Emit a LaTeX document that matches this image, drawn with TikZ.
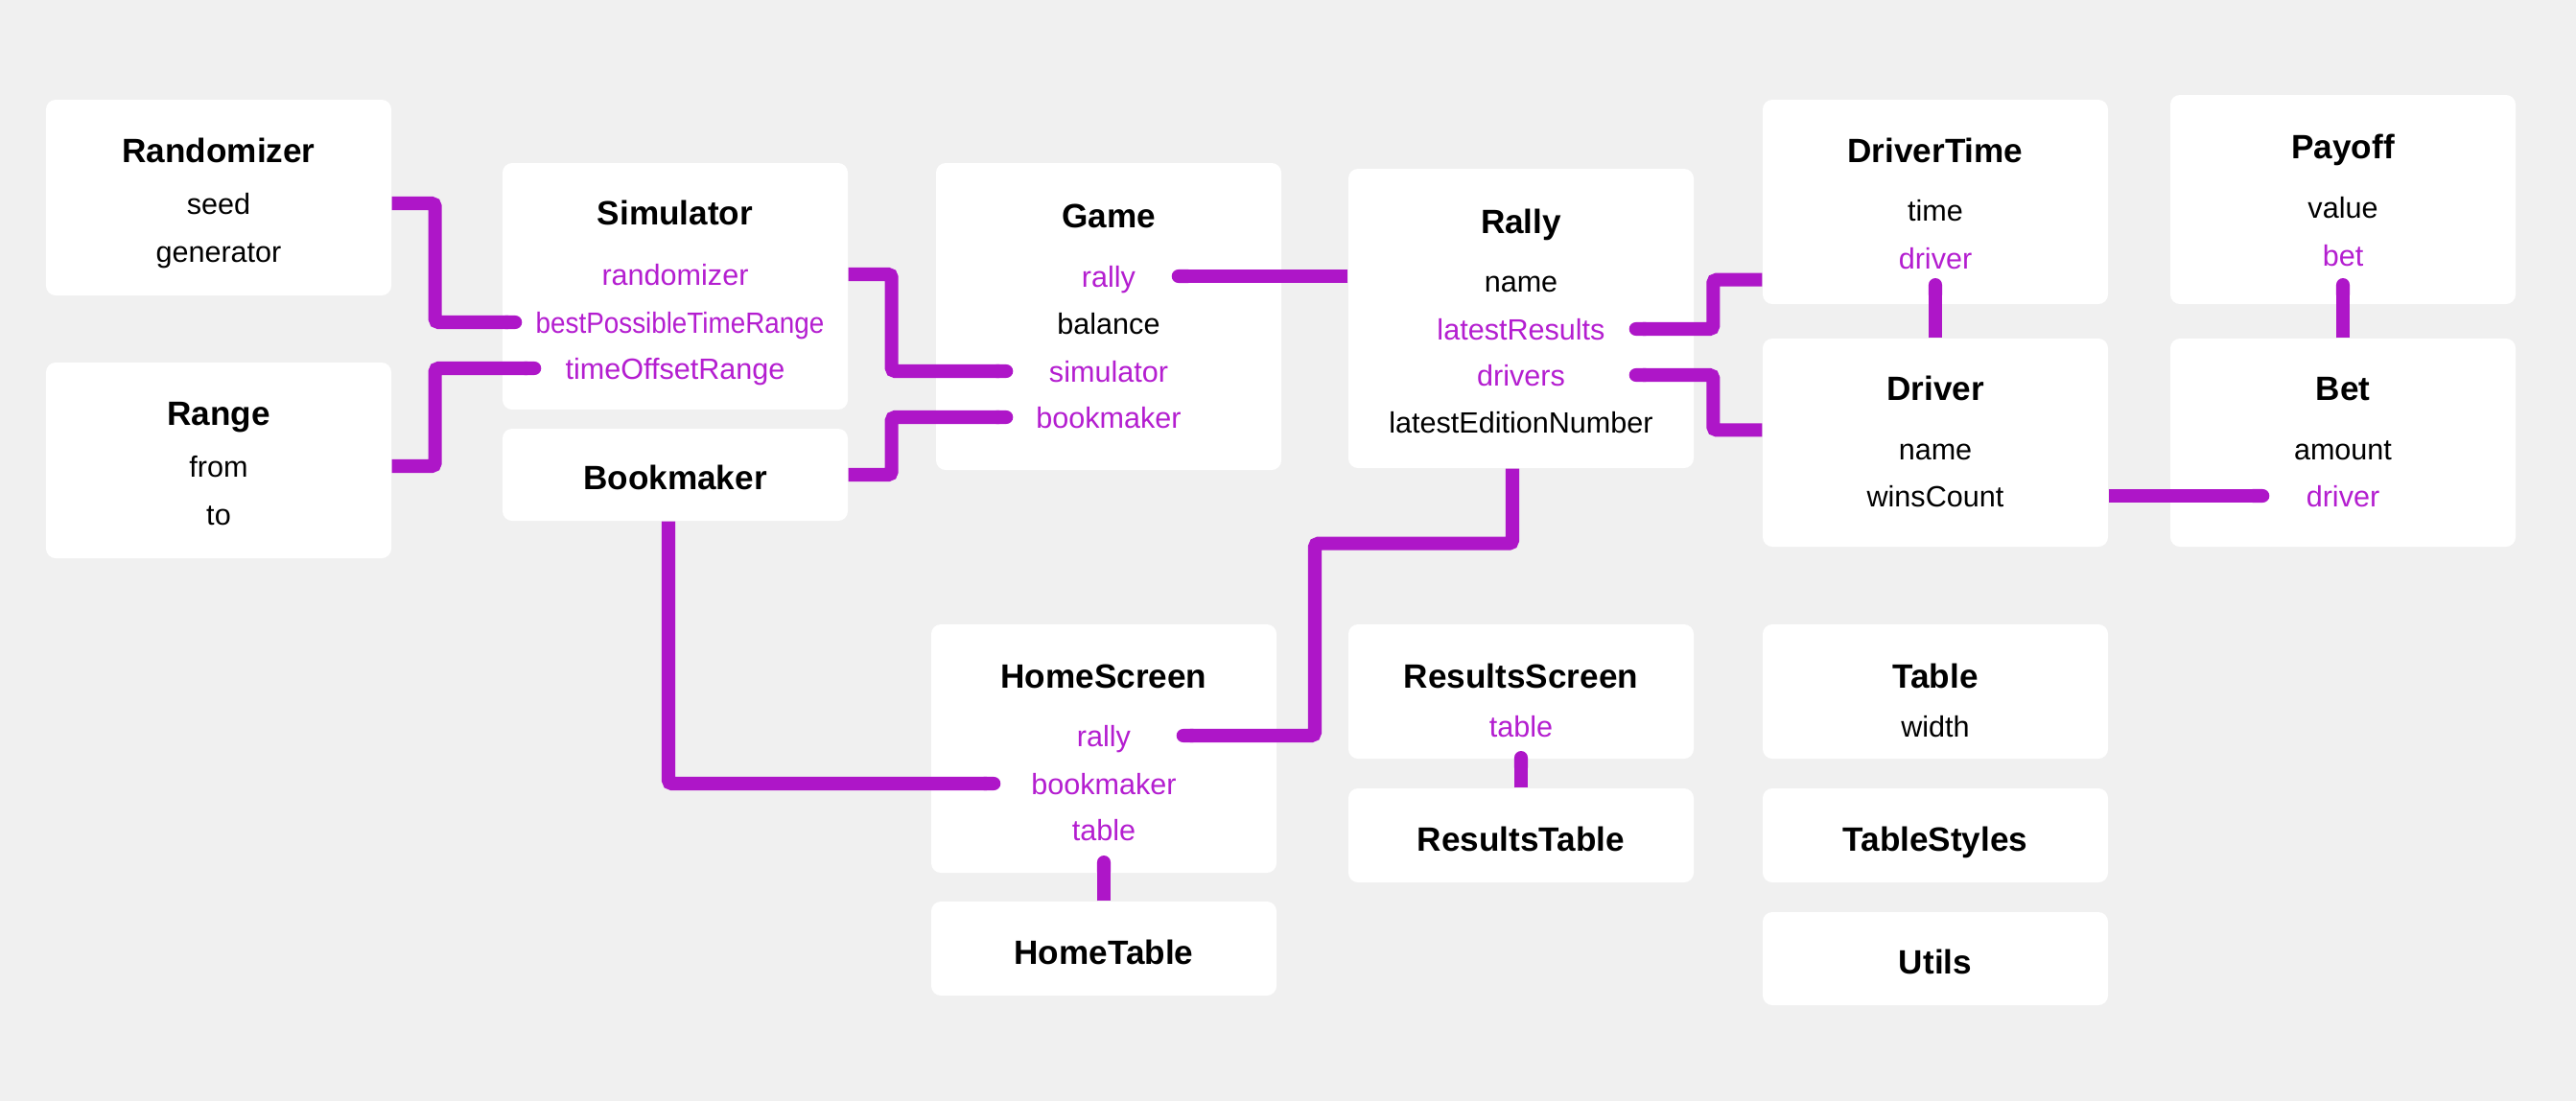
\documentclass[tikz,border=0pt]{standalone}
\usepackage{fontspec}
\setmainfont{Liberation Sans}
\usetikzlibrary{positioning,arrows.meta}
\definecolor{canvas}{RGB}{240,240,240}
\definecolor{linkpurple}{RGB}{174,22,200}
\definecolor{refpurple}{RGB}{180,30,208}

\begin{document}
\begin{tikzpicture}[
  box/.style={fill=white, rounded corners=1mm, minimum width=3.6cm, inner sep=0pt},
  head/.style={font=\fontsize{10}{12}\selectfont\bfseries, inner sep=0pt,
               text height=9.5pt, text depth=2pt},
  attr/.style={font=\fontsize{8.7}{10}\selectfont, inner sep=0pt,
               text height=8.5pt, text depth=1.8pt},
  ref/.style={attr, text=refpurple},
  link/.style={draw=linkpurple, line width=4pt, rounded corners=1pt, -{Round Cap}}
]
  % Canvas (fixes the margins)
  \fill[canvas] (0,0) rectangle (26.86,-11.48);

  % Class boxes, upper block
  \node[box, minimum height=2.04cm] (rnd)   at (2.28,-2.06)   {};
  \node[box, minimum height=2.04cm] (rng)   at (2.28,-4.80)   {};
  \node[box, minimum height=2.57cm] (sim)   at (7.04,-2.985)  {};
  \node[box, minimum height=0.96cm] (bkm)   at (7.04,-4.95)   {};
  \node[box, minimum height=3.20cm] (game)  at (11.56,-3.30)  {};
  \node[box, minimum height=3.12cm] (rally) at (15.86,-3.32)  {};
  \node[box, minimum height=2.13cm] (dtime) at (20.18,-2.105) {};
  \node[box, minimum height=2.17cm] (drv)   at (20.18,-4.615) {};
  \node[box, minimum height=2.18cm] (pay)   at (24.43,-2.08)  {};
  \node[box, minimum height=2.17cm] (bet)   at (24.43,-4.615) {};

  % Class boxes, lower block
  \node[box, minimum height=2.59cm] (home)  at (11.51,-7.805) {};
  \node[box, minimum height=0.98cm] (htab)  at (11.51,-9.89)  {};
  \node[box, minimum height=1.40cm] (rscr)  at (15.86,-7.21)  {};
  \node[box, minimum height=0.98cm] (rtab)  at (15.86,-8.71)  {};
  \node[box, minimum height=1.40cm] (tab)   at (20.18,-7.21)  {};
  \node[box, minimum height=0.98cm] (tsty)  at (20.18,-8.71)  {};
  \node[box, minimum height=0.97cm] (utl)   at (20.18,-9.995) {};

  % Names and fields
  \node[head] (rnd-t)      at (2.28,-1.56) {Randomizer};
  \node[attr] (rnd-seed)   at (2.28,-2.12) {seed};
  \node[attr] (rnd-gen)    at (2.28,-2.62) {generator};

  \node[head] (rng-t)      at (2.28,-4.30) {Range};
  \node[attr] (rng-from)   at (2.28,-4.86) {from};
  \node[attr] (rng-to)     at (2.28,-5.36) {to};

  \node[head] (sim-t)      at (7.04,-2.21) {Simulator};
  \node[ref]  (sim-rand)   at (7.04,-2.86) {randomizer};
  \node[ref]  (sim-best)   at (7.09,-3.36) {\addfontfeature{FakeStretch=0.91}bestPossibleTimeRange};
  \node[ref]  (sim-offset) at (7.04,-3.84) {timeOffsetRange};

  \node[head] (bkm-t)      at (7.04,-4.97) {Bookmaker};

  \node[head] (game-t)     at (11.56,-2.24) {Game};
  \node[ref]  (game-rally) at (11.56,-2.88) {rally};
  \node[attr] (game-bal)   at (11.56,-3.37) {balance};
  \node[ref]  (game-sim)   at (11.56,-3.87) {simulator};
  \node[ref]  (game-bkm)   at (11.56,-4.35) {bookmaker};

  \node[head] (rally-t)    at (15.86,-2.30) {Rally};
  \node[attr] (rally-name) at (15.86,-2.93) {name};
  \node[ref]  (rally-res)  at (15.86,-3.43) {latestResults};
  \node[ref]  (rally-drv)  at (15.86,-3.91) {drivers};
  \node[attr] (rally-ed)   at (15.86,-4.40) {latestEditionNumber};

  \node[head] (dtime-t)    at (20.18,-1.56) {DriverTime};
  \node[attr] (dtime-time) at (20.18,-2.19) {time};
  \node[ref]  (dtime-drv)  at (20.18,-2.69) {driver};

  \node[head] (drv-t)      at (20.18,-4.04) {Driver};
  \node[attr] (drv-name)   at (20.18,-4.68) {name};
  \node[attr] (drv-wins)   at (20.18,-5.17) {winsCount};

  \node[head] (pay-t)      at (24.43,-1.52) {Payoff};
  \node[attr] (pay-val)    at (24.43,-2.16) {value};
  \node[ref]  (pay-bet)    at (24.43,-2.66) {bet};

  \node[head] (bet-t)      at (24.43,-4.04) {Bet};
  \node[attr] (bet-amt)    at (24.43,-4.68) {amount};
  \node[ref]  (bet-drv)    at (24.43,-5.17) {driver};

  \node[head] (home-t)     at (11.51,-7.04) {HomeScreen};
  \node[ref]  (home-rally) at (11.51,-7.67) {rally};
  \node[ref]  (home-bkm)   at (11.51,-8.17) {bookmaker};
  \node[ref]  (home-tbl)   at (11.51,-8.65) {table};
  \node[head] (htab-t)     at (11.51,-9.92) {HomeTable};

  \node[head] (rscr-t)     at (15.86,-7.04) {ResultsScreen};
  \node[ref]  (rscr-tbl)   at (15.86,-7.57) {table};
  \node[head] (rtab-t)     at (15.86,-8.74) {ResultsTable};

  \node[head] (tab-t)      at (20.18,-7.04) {Table};
  \node[attr] (tab-w)      at (20.18,-7.57) {width};
  \node[head] (tsty-t)     at (20.18,-8.74) {TableStyles};
  \node[head] (utl-t)      at (20.18,-10.02) {Utils};

  % Links (box edge -> field)
  \draw[link] (rnd.east |- rnd-seed) -- ++(0.45,0) |- ([xshift=2.1mm]sim.west |- sim-best);
  \draw[link] (rng.east |- rng-from) -- ++(0.45,0) |- ([xshift=4.1mm]sim.west |- sim-offset);
  \draw[link] (sim.east |- sim-rand) -- ++(0.45,0) |- ([xshift=8.1mm]game.west |- game-sim);
  \draw[link] (bkm.east) -- ++(0.45,0) |- ([xshift=8.1mm]game.west |- game-bkm);
  \draw[link] (rally.west |- game-rally) -- ([xshift=-11.5mm]game.east |- game-rally);
  \draw[link] ([yshift=2.6mm]dtime.south west) -- ++(-0.51,0) |- ([xshift=-6.8mm]rally.east |- rally-res);
  \draw[link] ([yshift=-9.6mm]drv.north west) -- ++(-0.51,0) |- ([xshift=-6.8mm]rally.east |- rally-drv);
  \draw[link] (drv.east |- drv-wins) -- ([xshift=10.4mm]bet.west |- bet-drv);
  \draw[link] (drv.north) -- ([yshift=-2.1mm]dtime-drv.center);
  \draw[link] (bet.north) -- ([yshift=-2.4mm]pay-bet.center);

  % Links into the screens
  \draw[link] ([xshift=-0.9mm]rally.south) |- ++(-2.06,-0.78) |- ([xshift=-10.5mm]home.east |- home-rally);
  \draw[link] ([xshift=-0.7mm]bkm.south) |- ([xshift=7.3mm]home.west |- home-bkm);
  \draw[link] (htab.north) -- ([yshift=-2.7mm]home-tbl.center);
  \draw[link] (rtab.north) -- ([yshift=-2.6mm]rscr-tbl.center);
\end{tikzpicture}
\end{document}
